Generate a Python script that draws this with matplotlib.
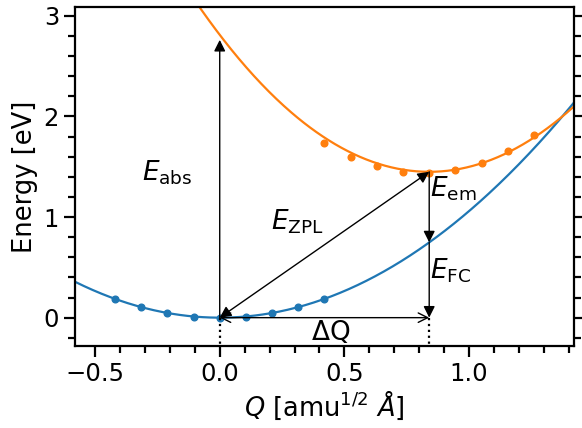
import numpy as np
import matplotlib
matplotlib.use("Agg")
import matplotlib.pyplot as plt
from matplotlib.ticker import MultipleLocator

# ---- data ----
dQ = 0.84                      # displacement between minima
E_zpl = 1.45                   # excited-state minimum energy
k_ground = 1.06                # ground-state curvature [eV / (amu Å^2)]
k_excited = 1.93               # excited-state curvature

Q_ground_pts = [-0.42, -0.315, -0.21, -0.105, 0.0, 0.105, 0.21, 0.315, 0.42]
E_ground_pts = [0.185, 0.103, 0.044, 0.010, 0.0, 0.010, 0.044, 0.103, 0.183]
Q_excited_pts = [0.42, 0.525, 0.63, 0.735, 0.84, 0.945, 1.05, 1.155, 1.26]
E_excited_pts = [1.737, 1.601, 1.505, 1.450, 1.440, 1.469, 1.541, 1.653, 1.816]

xlim = (-0.58, 1.42)
ylim = (-0.28, 3.09)

blue = "#1f77b4"
orange = "#ff7f0e"

fig = plt.figure(figsize=(5.82, 4.28), dpi=100)
ax = fig.add_axes([0.129, 0.192, 0.857, 0.792])

Q = np.linspace(xlim[0], xlim[1], 400)
Eg = k_ground * Q**2
Ee = k_excited * (Q - dQ)**2 + E_zpl

ax.plot(Q, Eg, color=blue, lw=1.6)
ax.plot(Q, Ee, color=orange, lw=1.6)
ax.plot(Q_ground_pts, E_ground_pts, "o", color=blue, ms=4.8)
ax.plot(Q_excited_pts, E_excited_pts, "o", color=orange, ms=4.8)

E_abs = k_excited * dQ**2 + E_zpl
E_g_at_dQ = k_ground * dQ**2

ms = 17
head = dict(arrowstyle="-|>", color="k", lw=1, mutation_scale=ms, shrinkA=0, shrinkB=0)
# absorption
ax.annotate("", xy=(0, E_abs - 0.05), xytext=(0, 0), arrowprops=head)
# ZPL (both ends)
ax.annotate("", xy=(0, 0), xytext=(dQ, E_zpl),
            arrowprops=dict(arrowstyle="<|-|>", color="k", lw=1, mutation_scale=ms, shrinkA=0, shrinkB=0))
# emission
ax.annotate("", xy=(dQ, E_g_at_dQ), xytext=(dQ, E_zpl), arrowprops=head)
# Franck-Condon
ax.annotate("", xy=(dQ, 0), xytext=(dQ, E_g_at_dQ), arrowprops=head)
# Delta Q
ax.annotate("", xy=(dQ, 0), xytext=(0, 0),
            arrowprops=dict(arrowstyle="<->", color="k", lw=1, mutation_scale=ms, shrinkA=0, shrinkB=0))
# dotted drop lines
ax.plot([0, 0], [0, ylim[0]], ls=":", color="k", lw=1.6)
ax.plot([dQ, dQ], [0, ylim[0]], ls=":", color="k", lw=1.6)

fs_txt = 19
ax.text(-0.21, 1.44, r"$E_{\rm abs}$", fontsize=fs_txt, ha="center", va="center")
ax.text(0.31, 0.95, r"$E_{\rm ZPL}$", fontsize=fs_txt, ha="center", va="center")
ax.text(0.845, 1.28, r"$E_{\rm em}$", fontsize=fs_txt, ha="left", va="center")
ax.text(0.845, 0.47, r"$E_{\rm FC}$", fontsize=fs_txt, ha="left", va="center")
ax.text(0.445, -0.145, r"$\Delta$Q", fontsize=fs_txt, ha="center", va="center")

ax.set_xlim(*xlim)
ax.set_ylim(*ylim)
ax.xaxis.set_major_locator(MultipleLocator(0.5))
ax.xaxis.set_minor_locator(MultipleLocator(0.1))
ax.yaxis.set_major_locator(MultipleLocator(1))
ax.yaxis.set_minor_locator(MultipleLocator(0.2))
ax.tick_params(which="both", direction="out", width=1.6, labelsize=17.5)
ax.tick_params(axis="y", which="both", right=True, labelright=False)
ax.tick_params(which="major", length=8)
ax.tick_params(which="minor", length=5)
for s in ax.spines.values():
    s.set_linewidth(1.6)

ax.set_xlabel(r"$Q$ [amu$^{1/2}$ $\AA$]", fontsize=18.5, labelpad=2)
ax.set_ylabel("Energy [eV]", fontsize=18.5, labelpad=4)

fig.savefig("out.png", dpi=100)
